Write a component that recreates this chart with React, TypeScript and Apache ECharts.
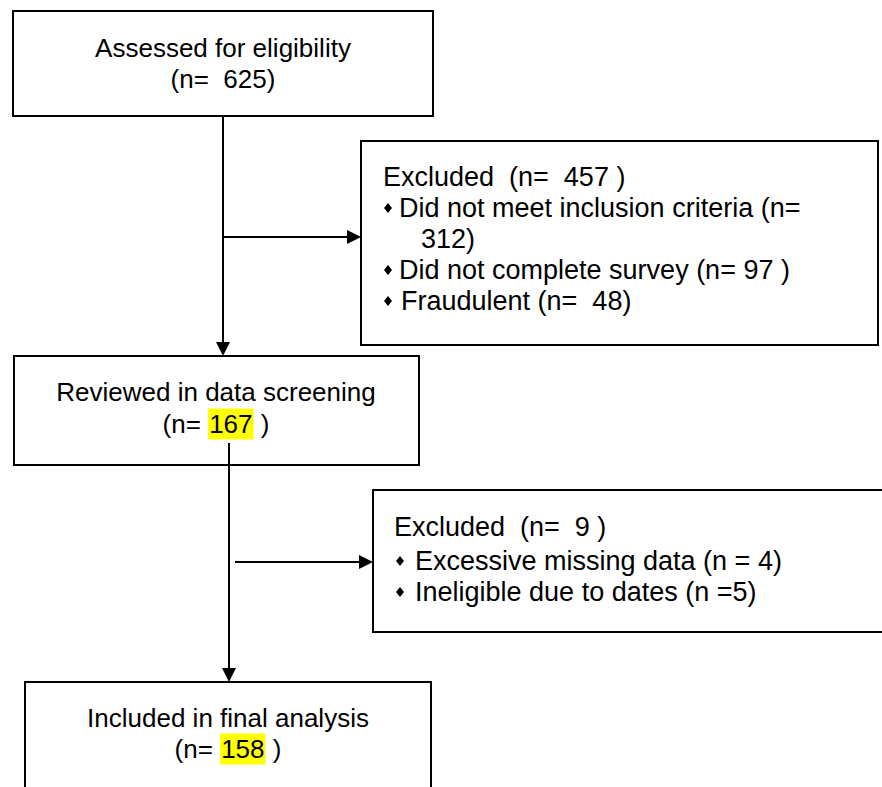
import React, { useEffect, useRef } from "react";
import * as echarts from "echarts";

// ---- Data ----
const stageLabels = ["Assessed for eligibility", "Reviewed in data screening", "Included in final analysis"];
const stageCounts = [625, 167, 158];
const highlightedStages = [false, true, true];
const exclusionTotals = [457, 9];
const exclusionReasonsA = ["Did not meet inclusion criteria", "Did not complete survey", "Fraudulent"];
const exclusionCountsA = [312, 97, 48];
const exclusionReasonsB = ["Excessive missing data", "Ineligible due to dates"];
const exclusionCountsB = [4, 5];

const FONT = '"Liberation Sans", Arial, Helvetica, sans-serif';
const FS = 26;

function rect(x: number, y: number, w: number, h: number) {
  return { type: "rect", shape: { x, y, width: w, height: h }, style: { fill: "#fff", stroke: "#000", lineWidth: 2 } };
}
function line(x1: number, y1: number, x2: number, y2: number) {
  return { type: "line", shape: { x1, y1, x2, y2 }, style: { stroke: "#000", lineWidth: 2 } };
}
function arrowDown(x: number, tip: number) {
  return { type: "polygon", shape: { points: [[x - 7, tip - 14], [x + 7, tip - 14], [x, tip]] }, style: { fill: "#000" } };
}
function arrowRight(y: number, tip: number) {
  return { type: "polygon", shape: { points: [[tip - 14, y - 7], [tip - 14, y + 7], [tip, y]] }, style: { fill: "#000" } };
}
function diamond(x: number, y: number) {
  return { type: "polygon", shape: { points: [[x, y - 5], [x + 4, y], [x, y + 5], [x - 4, y]] }, style: { fill: "#000" } };
}
function text(x: number, y: number, t: string, align: string, fs = FS, scaleX = 1) {
  return {
    type: "text", x, y, scaleX,
    style: { text: t, fontFamily: FONT, fontSize: fs, fill: "#000", align, verticalAlign: "middle" },
  };
}
function countText(x: number, y: number, n: number, highlight: boolean, spaced: boolean) {
  if (!highlight) return text(x, y, `(n=  ${n}${spaced ? " " : ""})`, "center");
  return {
    type: "text", x, y,
    style: {
      text: `{a|(n= }{h|${n}}{a| )}`,
      fontFamily: FONT, fontSize: FS, fill: "#000", align: "center", verticalAlign: "middle",
      rich: {
        a: { fontFamily: FONT, fontSize: FS, fill: "#000", lineHeight: 31 },
        h: { fontFamily: FONT, fontSize: FS, fill: "#000", backgroundColor: "#ffff00", lineHeight: 31, height: 31, padding: [0, 1] },
      },
    },
  };
}

export default function App() {
  const ref = useRef<HTMLDivElement>(null);
  useEffect(() => {
    const chart = echarts.init(ref.current!, null, { renderer: "svg", width: 882, height: 787 });
    const els: any[] = [];
    const FS2 = 27;

    // connectors
    els.push(line(223, 116, 223, 344));
    els.push(arrowDown(223, 356));
    els.push(line(223, 237, 349, 237));
    els.push(arrowRight(237, 361));
    els.push(line(229, 443, 229, 670));
    els.push(arrowDown(229, 682));
    els.push(line(235, 562, 361, 562));
    els.push(arrowRight(562, 373));

    // box 1
    els.push(rect(13, 11, 420, 105));
    els.push(text(223, 48, stageLabels[0], "center"));
    els.push(text(223, 79, `(n=  ${stageCounts[0]})`, "center"));

    // box 2 (exclusions A)
    els.push(rect(361, 141, 517, 204));
    els.push(text(383, 177, `Excluded  (n=  ${exclusionTotals[0]} )`, "left", FS2));
    els.push(diamond(388, 208));
    els.push(text(399, 208, `${exclusionReasonsA[0]} (n=`, "left", FS2));
    els.push(text(421, 239, `${exclusionCountsA[0]})`, "left", FS2));
    els.push(diamond(388, 270));
    els.push(text(399, 270, `${exclusionReasonsA[1]} (n= ${exclusionCountsA[1]} )`, "left", FS2));
    els.push(diamond(388, 301));
    els.push(text(401, 301, `${exclusionReasonsA[2]} (n=  ${exclusionCountsA[2]})`, "left", FS2));

    // box 3
    els.push(rect(14, 356, 405, 109));
    els.push(text(216, 392, stageLabels[1], "center"));
    els.push(countText(216, 424, stageCounts[1], highlightedStages[1], true));
    // line starts inside box 3
    els.push(line(229, 443, 229, 466));

    // box 4 (exclusions B)
    els.push({ type: "rect", shape: { x: 373, y: 490, width: 600, height: 142 }, style: { fill: "#fff", stroke: "#000", lineWidth: 2 } });
    els.push(text(394, 527, `Excluded  (n=  ${exclusionTotals[1]} )`, "left", FS2));
    els.push(diamond(400, 561));
    els.push(text(415, 561, `${exclusionReasonsB[0]} (n = ${exclusionCountsB[0]})`, "left", FS2));
    els.push(diamond(400, 592));
    els.push(text(415, 592, `${exclusionReasonsB[1]} (n =${exclusionCountsB[1]})`, "left", FS2));

    // box 5
    els.push(rect(25, 682, 406, 140));
    els.push(text(228, 718, stageLabels[2], "center"));
    els.push(countText(228, 749, stageCounts[2], highlightedStages[2], true));

    chart.setOption({ animation: false, graphic: { elements: els } });
    return () => chart.dispose();
  }, []);
  return (
    <div
      ref={ref}
      style={{ position: "absolute", left: 0, top: 0, width: 882, height: 787, background: "#fff", overflow: "hidden" }}
    />
  );
}
